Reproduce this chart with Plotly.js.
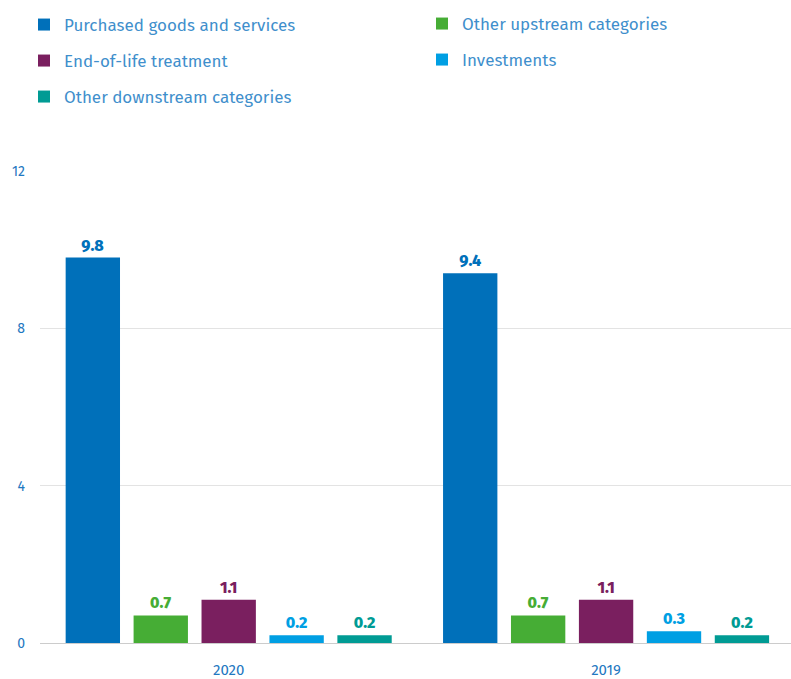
<!DOCTYPE html>
<html><head><meta charset="utf-8">
<script src="https://cdn.plot.ly/plotly-3.0.1.min.js"></script>
<style>html,body{margin:0;padding:0;background:#fff}#chart{width:791px;height:679px}</style>
</head><body><div id="chart"></div>
<script>
const years = ["2020", "2019"];
const seriesNames = ["Purchased goods and services", "Other upstream categories", "End-of-life treatment", "Investments", "Other downstream categories"];
const purchased = [9.8, 9.4];
const upstream = [0.7, 0.7];
const endOfLife = [1.1, 1.1];
const investments = [0.2, 0.3];
const downstream = [0.2, 0.2];
const yTicks = [0, 4, 8, 12];
const colors = ["#0070BA", "#46AD35", "#7A1F5F", "#009FE3", "#009B94"];
const legendIds = ["legend", "legend2", "legend3", "legend4", "legend5"];

const values = [purchased, upstream, endOfLife, investments, downstream];
const font = "Fira Sans, Noto Sans, sans-serif";
const traces = values.map((v, i) => ({
  type: "bar", name: seriesNames[i], x: years, y: v,
  marker: {color: colors[i]}, legend: legendIds[i],
  text: v.map(d => d.toFixed(1)), textposition: "outside",
  textfont: {family: font, size: 16, color: colors[i], weight: 800},
  cliponaxis: false, hoverinfo: "none"
}));

const plotL = 40, plotT = 171, plotW = 751, plotH = 472;
function leg(xpx, ypx) {
  return {orientation: "v", x: (xpx - plotL) / plotW, xref: "paper", xanchor: "left",
    y: 1 + (plotT - ypx) / plotH, yref: "paper", yanchor: "middle",
    bgcolor: "rgba(0,0,0,0)",
    font: {family: font, size: 17, color: "#3F8FCC"}, itemwidth: 30};
}

const layout = {
  width: 791, height: 679,
  margin: {l: plotL, r: 0, t: plotT, b: 36},
  paper_bgcolor: "#fff", plot_bgcolor: "#fff",
  font: {family: font, color: "#1F78C1", size: 14},
  barmode: "group", bargap: 0.1, bargroupgap: 0.2,
  showlegend: true,
  legend: leg(24, 25), legend2: leg(422, 24), legend3: leg(24, 61), legend4: leg(422, 60), legend5: leg(24, 97),
  xaxis: {type: "category", range: [-0.5, 1.49], showgrid: false, zeroline: false, showline: false,
    ticks: "", tickfont: {size: 15, color: "#1F78C1"}, ticklabelstandoff: 16},
  yaxis: {range: [0, 12], tickvals: yTicks, ticktext: yTicks.map(String), showgrid: true,
    gridcolor: "#E3E3E3", gridwidth: 1, zeroline: true, zerolinecolor: "#CCCCCC", zerolinewidth: 1,
    showline: false, ticks: "", tickfont: {size: 14, color: "#1F78C1"}, ticklabelstandoff: 14}
};
Plotly.newPlot("chart", traces, layout, {displayModeBar: false, staticPlot: true});
</script></body></html>
